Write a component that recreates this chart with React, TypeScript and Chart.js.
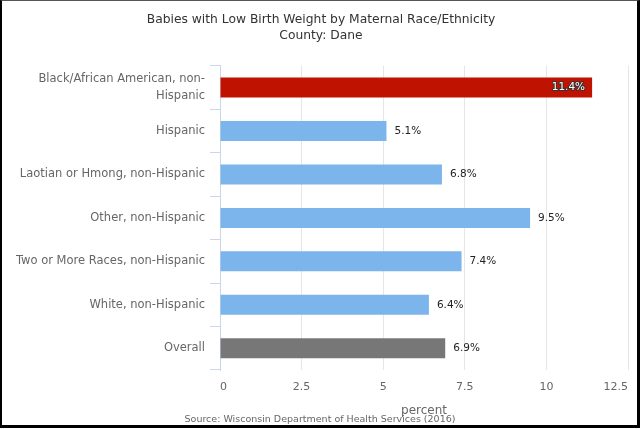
import React, { useEffect, useRef } from "react";
import { Chart, registerables } from "chart.js";

Chart.register(...registerables);

const categories: (string | string[])[] = [
  ["Black/African American, non-", "Hispanic"],
  "Hispanic",
  "Laotian or Hmong, non-Hispanic",
  "Other, non-Hispanic",
  "Two or More Races, non-Hispanic",
  "White, non-Hispanic",
  "Overall",
];
const values = [11.4, 5.1, 6.8, 9.5, 7.4, 6.4, 6.9];
const barColors = ["#C01200", "#7CB5EC", "#7CB5EC", "#7CB5EC", "#7CB5EC", "#7CB5EC", "#777777"];
const xMin = 0;
const xMax = 12.5;
const xStep = 2.5;
const titleLines = ["Babies with Low Birth Weight by Maternal Race/Ethnicity", "County: Dane"];
const xAxisTitle = "percent";
const sourceText = "Source: Wisconsin Department of Health Services (2016)";

const FONT = "'DejaVu Sans', sans-serif";

const labelsPlugin = {
  id: "barLabels",
  afterDatasetsDraw(chart: any) {
    const { ctx, chartArea } = chart;
    const meta = chart.getDatasetMeta(0);
    ctx.save();
    ctx.font = `10.5px ${FONT}`;
    ctx.textBaseline = "middle";
    meta.data.forEach((bar: any, i: number) => {
      const text = values[i].toFixed(1) + "%";
      const w = ctx.measureText(text).width;
      if (bar.x + 8 + w > chartArea.right) {
        ctx.textAlign = "right";
        ctx.lineJoin = "round";
        ctx.lineWidth = 2;
        ctx.strokeStyle = "#333333";
        ctx.strokeText(text, bar.x - 7, bar.y);
        ctx.fillStyle = "#ffffff";
        ctx.fillText(text, bar.x - 7, bar.y);
      } else {
        ctx.textAlign = "left";
        ctx.fillStyle = "#222222";
        ctx.fillText(text, bar.x + 8, bar.y);
      }
    });
    ctx.restore();
  },
  afterDraw(chart: any) {
    const { ctx } = chart;
    ctx.save();
    ctx.font = `9.5px ${FONT}`;
    ctx.fillStyle = "#666666";
    ctx.textAlign = "center";
    ctx.textBaseline = "middle";
    ctx.fillText(sourceText, 320, 420);
    ctx.restore();
  },
};

export default function App() {
  const ref = useRef<HTMLCanvasElement>(null);
  useEffect(() => {
    if (!ref.current) return;
    const chart = new Chart(ref.current, {
      type: "bar",
      data: {
        labels: categories as any,
        datasets: [
          {
            data: values,
            backgroundColor: barColors,
            borderWidth: 0,
            barPercentage: 0.46,
            categoryPercentage: 1,
          },
        ],
      },
      options: {
        indexAxis: "y",
        animation: false,
        responsive: false,
        layout: { padding: { left: 0, right: 0, top: 0, bottom: 9 } },
        plugins: {
          legend: { display: false },
          tooltip: { enabled: false },
          title: {
            display: true,
            text: titleLines,
            color: "#333333",
            font: { family: FONT, size: 12.3, weight: "normal", lineHeight: 1.3 },
            padding: { top: 12.3, bottom: 21.5 },
          },
        },
        scales: {
          x: {
            type: "linear",
            min: xMin,
            max: xMax,
            ticks: {
              stepSize: xStep,
              color: "#666666",
              font: { family: FONT, size: 11 },
              padding: 11,
              align: "inner",
              callback: (v: any) => String(v),
            },
            grid: { color: "#e6e6e6", drawTicks: false },
            border: { display: false },
            title: {
              display: true,
              text: xAxisTitle,
              color: "#666666",
              font: { family: FONT, size: 12 },
              padding: { top: 0, bottom: 2 },
            },
            afterFit: (s: any) => {
              s.height = 50;
              s.paddingRight = 14;
              s.paddingLeft = 0;
            },
          },
          y: {
            type: "category",
            ticks: {
              color: "#666666",
              font: { family: FONT, size: 11.5, lineHeight: 1.4 },
              padding: 5,
            },
            grid: {
              drawOnChartArea: false,
              drawTicks: true,
              tickLength: 10,
              color: "#ccd6eb",
            },
            border: { display: true, color: "#ccd6eb" },
            afterFit: (s: any) => {
              s.width = 220;
            },
          },
        },
      },
      plugins: [labelsPlugin],
    });
    return () => chart.destroy();
  }, []);
  return (
    <div style={{ position: "fixed", left: 0, top: 0, width: 642, height: 429, background: "#fff" }}>
      <canvas ref={ref} width={642} height={429} style={{ position: "absolute", left: 0, top: 0 }} />
      <div
        style={{
          position: "absolute",
          left: 0,
          top: 0,
          width: 640,
          height: 428,
          boxSizing: "border-box",
          borderLeft: "2px solid #000",
          borderRight: "3px solid #000",
          borderBottom: "3px solid #000",
          borderTop: "1px solid #555",
          pointerEvents: "none",
        }}
      />
    </div>
  );
}
